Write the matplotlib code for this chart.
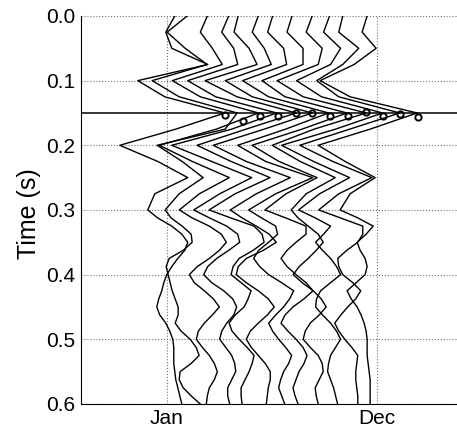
import numpy as np
import matplotlib
matplotlib.use("Agg")
import matplotlib.pyplot as plt

# time samples (s): 0.025 s down to 0.3 s, 0.0125 s below
t = [0.0, 0.025, 0.05, 0.075, 0.1, 0.125, 0.15, 0.175, 0.2, 0.225, 0.25, 0.275, 0.3,
     0.3125, 0.325, 0.3375, 0.35, 0.3625, 0.375, 0.3875, 0.4, 0.4125, 0.425, 0.4375, 0.45,
     0.4625, 0.475, 0.4875, 0.5, 0.5125, 0.525, 0.5375, 0.55, 0.5625, 0.575, 0.5875, 0.6]

# trace positions along the month axis (Jan = 0, Dec = 11)
trace_pos = [0.68, 1.59, 2.49, 3.40, 4.31, 5.21, 6.12, 7.03, 7.93, 8.84, 9.74, 10.65]

# trace amplitudes (arbitrary units), one list per trace
tr01 = [-5, -14, -8, 28, -42, -15, 45, -4, -60, -22, 8, -25, -32,
        -22, -8, 2, 8, 5, -2, -8, -13, -16, -18, -21, -23, -20, -14, -10, -7, -6, -6, -6, -5, -4, -2, 0, 2]
tr02 = [-10, -30, -12, 10, -45, -18, 40, 28, -40, -15, 6, -18, -32,
        -26, -15, -6, -5, -14, -28, -31, -29, -27, -25, -22, -19, -19, -22, -16, -7, -1, 2, -6, -17, -18, -14, -6, 3]
tr03 = [-7, -14, -2, 8, -42, -14, 44, 2, -55, -22, 15, -15, -35,
        -22, -5, 7, 12, 5, -5, -17, -25, -20, -10, -1, 5, -2, -10, -16, -18, -12, -5, 0, 3, 0, -5, -7, -8]
tr04 = [-3, -10, 2, 6, -44, -16, 45, 0, -60, -20, 20, -12, -38,
        -22, -5, 6, 8, -3, -15, -24, -28, -20, -8, 1, 5, 2, -5, -10, -12, -6, 0, 3, 4, 0, -4, -4, -2]
tr05 = [-11, -15, 0, 8, -44, -12, 47, -3, -52, -18, 21, -14, -40,
        -18, 5, 13, 15, 4, -10, -16, -18, -8, 2, -1, -5, -14, -20, -17, -10, -2, 5, 3, 0, -4, -8, -8, -7]
tr06 = [-8, -14, -2, 5, -41, -14, 46, -2, -53, -20, 24, -10, -36,
        -24, -10, 3, 10, -3, -20, -28, -30, -20, -8, 2, 8, 1, -8, -16, -20, -15, -8, -1, 4, 4, 2, 1, 0]
tr07 = [-11, -16, 0, 3, -41, -15, 45, 2, -46, -18, 29, -8, -35,
        -22, -8, -6, -15, -25, -30, -24, -15, -2, 10, 6, 0, -8, -15, -11, -5, 2, 8, 5, 0, -3, -5, -2, 1]
tr08 = [-9, -14, 2, 2, -39, -16, 46, 1, -49, -22, 16, -15, -36,
        -15, 5, 5, -5, -14, -20, -14, -5, 5, 12, 3, -8, -16, -20, -13, -5, 2, 6, 3, -2, -5, -8, -6, -3]
tr09 = [-6, -12, 4, 0, -41, -15, 48, -4, -46, -18, 17, -12, -27,
        -20, -10, 0, 5, -2, -10, -19, -25, -16, -5, 3, 8, 1, -8, -13, -15, -8, 0, 4, 5, 1, -3, -2, 0]
tr10 = [-6, -12, 5, -5, -39, -14, 47, 0, -54, -22, 14, -16, -37,
        -20, -5, -12, -20, -13, -5, 1, 5, -5, -15, -19, -20, -13, -5, 1, 5, 0, -5, -7, -8, -5, -2, 0, 2]
tr11 = [-10, -14, 6, -10, -36, -14, 47, -3, -53, -20, 19, -14, -34,
        -12, 10, 10, 5, -6, -15, -14, -10, 0, 8, 3, -5, -12, -18, -14, -8, -1, 5, 4, 3, 3, 4, 5, 5]
tr12 = [-3, -8, 6, -16, -50, -20, 47, 0, -52, -25, 5, -20, -30,
        -12, 3, -4, -13, -10, -5, -3, -5, -14, -23, -19, -13, -9, -6, -4, -3, -3, -3, -2, -1, 0, 0, 0, 0]
traces = [tr01, tr02, tr03, tr04, tr05, tr06, tr07, tr08, tr09, tr10, tr11, tr12]

# picked first peak of each trace
pick_t = [0.153, 0.163, 0.155, 0.155, 0.150, 0.150, 0.155, 0.155, 0.149, 0.155, 0.151, 0.156]
pick_amp = [45, 46, 46, 46, 47, 46, 46, 47, 48, 47, 47, 48]

month_ticks = [0, 11]
month_labels = ["Jan", "Dec"]
t_ticks = [0.0, 0.1, 0.2, 0.3, 0.4, 0.5, 0.6]
pick_line = 0.15

gain = 0.0524  # amplitude units -> months
fs = 15

plt.rcParams["font.family"] = ["Liberation Sans", "DejaVu Sans"]

fig = plt.figure(figsize=(4.57, 4.32), dpi=100)
ax = fig.add_axes([0.177, 0.065, 0.823, 0.898])

for x0, tr in zip(trace_pos, traces):
    ax.plot(x0 + gain * np.array(tr), t, color="k", lw=1.0)

px = np.array(trace_pos) + gain * np.array(pick_amp)
ax.plot(px, pick_t, "o", mfc="none", mec="k", mew=1.4, ms=4.5)

ax.axhline(pick_line, color="k", lw=1.1)

ax.set_xlim(-4.5, 15.2)
ax.set_ylim(0.6, 0.0)
ax.set_xticks(month_ticks)
ax.set_xticklabels(month_labels)
ax.set_yticks(t_ticks)
ax.set_yticklabels(["%.1f" % v for v in t_ticks])
ax.tick_params(length=0, labelsize=fs, pad=4)
ax.grid(True, color="0.45", ls=":", lw=0.8)
ax.set_axisbelow(True)
for s in ["top", "right"]:
    ax.spines[s].set_visible(False)
ax.set_ylabel("Time (s)", fontsize=18)
ax.yaxis.set_label_coords(-0.105, 0.49)

fig.savefig("out.png", dpi=100)
